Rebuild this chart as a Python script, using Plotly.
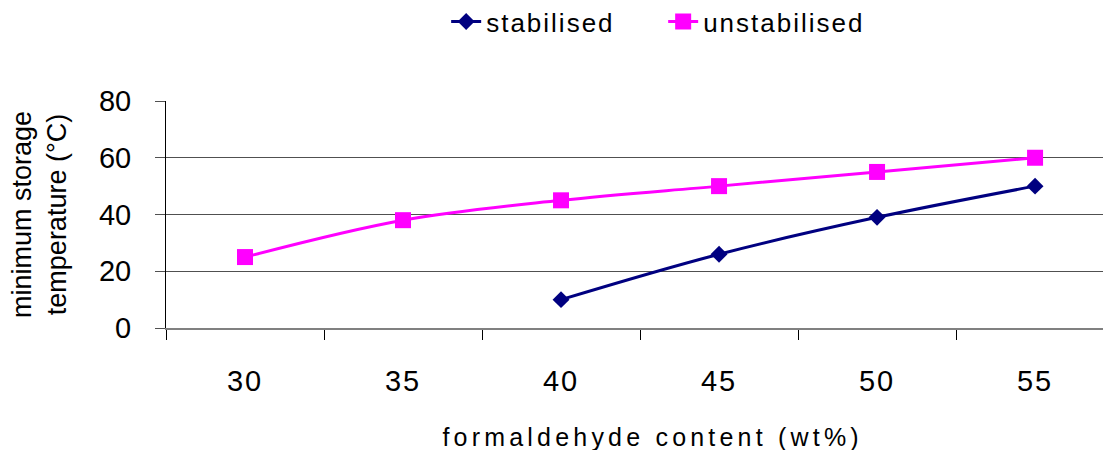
import plotly.graph_objects as go

# formaldehyde content (wt%) categories
content = ["30", "35", "40", "45", "50", "55"]
# minimum storage temperature (°C)
stabilised = [None, None, 10, 26, 39, 50]
unstabilised = [25, 38, 45, 50, 55, 60]

FONT = "Liberation Sans, Arial, sans-serif"

fig = go.Figure()
fig.add_trace(go.Scatter(
    x=content, y=stabilised, name="stabilised", mode="lines+markers",
    line=dict(color="#000080", width=3, shape="spline"),
    marker=dict(symbol="diamond", size=13, color="#000080"),
    connectgaps=False,
))
fig.add_trace(go.Scatter(
    x=content, y=unstabilised, name="unstabilised", mode="lines+markers",
    line=dict(color="#FF00FF", width=3, shape="spline"),
    marker=dict(symbol="square", size=16, color="#FF00FF"),
))

fig.update_layout(
    width=1103, height=450,
    margin=dict(l=166, r=0, t=101, b=122),
    paper_bgcolor="white", plot_bgcolor="white",
    font=dict(family=FONT, color="black"),
    showlegend=True,
    legend=dict(
        orientation="h", xref="container", yref="container",
        x=0.4045, xanchor="left", y=0.952, yanchor="middle",
        font=dict(size=26, family=FONT), bgcolor="rgba(0,0,0,0)",
        itemwidth=30, entrywidth=172, entrywidthmode="pixels",
    ),
    xaxis=dict(
        type="category", range=[-0.5, 5.43],
        showgrid=False, showline=True, linecolor="#808080", linewidth=2,
        ticks="outside", tickson="boundaries", ticklen=10, tickcolor="black", tickwidth=1,
        tickfont=dict(size=29, family=FONT), ticklabelstandoff=26,
    ),
    yaxis=dict(
        range=[0, 80], tickvals=[0, 20, 40, 60, 80], zeroline=False,
        showgrid=True, gridcolor="#505050", gridwidth=1,
        showline=True, linecolor="black", linewidth=1,
        ticks="outside", ticklen=10, tickcolor="#505050",
        tickfont=dict(size=29, family=FONT), ticklabelstandoff=18,
        title=dict(text="minimum storage<br>temperature (°C)", font=dict(size=27, family=FONT), standoff=24),
    ),
    annotations=[dict(
        text="formaldehyde content (wt%)", xref="paper", yref="paper",
        x=0.5, y=0, xanchor="center", yanchor="middle", xshift=18, yshift=-109,
        showarrow=False, font=dict(size=25, family=FONT, color="black"),
    )],
)

spacing_js = """
var s = document.createElement('style');
s.textContent = '.legendtext {letter-spacing: 2px;} .xtick text {letter-spacing: 2px;} .annotation-text {letter-spacing: 4.2px;}';
document.head.appendChild(s);
"""

fig.write_html("out.html", post_script=spacing_js)
